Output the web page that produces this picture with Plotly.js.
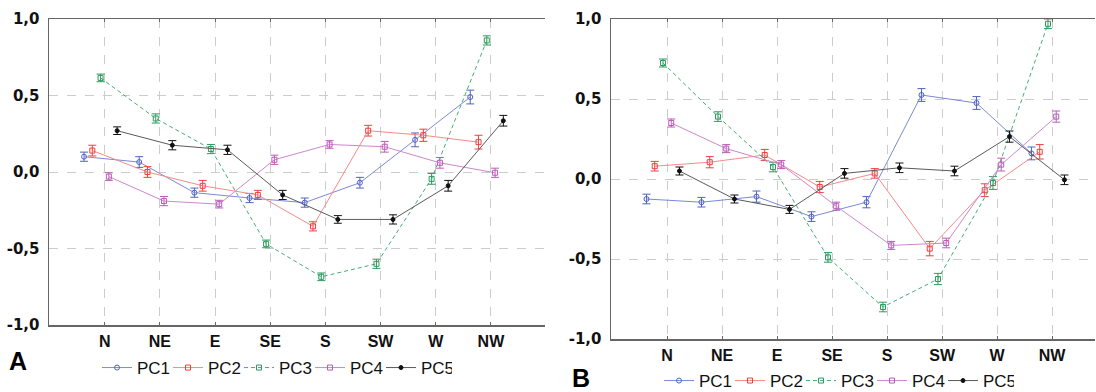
<!DOCTYPE html>
<html><head><meta charset="utf-8">
<script src="https://cdn.plot.ly/plotly-3.0.1.min.js"></script>
<style>html,body{margin:0;padding:0;background:#fff;overflow:hidden}#chart{width:1096px;height:392px}</style>
</head><body><div id="chart"></div>
<script>
const categories = ['N','NE','E','SE','S','SW','W','NW'];
const seriesNames = ['PC1','PC2','PC3','PC4','PC5'];
const yTickValues = [-1, -0.5, 0, 0.5, 1];
const yTickLabels = ['-1,0','-0,5','0,0','0,5','1,0'];
const panelLabels = ['A','B'];

// Panel A values and error half-widths
const a_PC1 = [0.10, 0.065, -0.135, -0.17, -0.20, -0.07, 0.21, 0.49];
const a_PC2 = [0.14, 0.00, -0.09, -0.15, -0.355, 0.27, 0.24, 0.195];
const a_PC3 = [0.615, 0.35, 0.15, -0.47, -0.685, -0.60, -0.045, 0.86];
const a_PC4 = [-0.03, -0.19, -0.21, 0.08, 0.18, 0.165, 0.06, -0.005];
const a_PC5 = [0.27, 0.175, 0.145, -0.15, -0.31, -0.31, -0.09, 0.335];
const a_PC1_err = [0.03, 0.035, 0.03, 0.03, 0.03, 0.035, 0.045, 0.045];
const a_PC2_err = [0.035, 0.035, 0.035, 0.03, 0.03, 0.035, 0.04, 0.045];
const a_PC3_err = [0.025, 0.03, 0.03, 0.025, 0.025, 0.03, 0.035, 0.03];
const a_PC4_err = [0.025, 0.03, 0.025, 0.03, 0.025, 0.035, 0.035, 0.03];
const a_PC5_err = [0.025, 0.03, 0.03, 0.03, 0.025, 0.03, 0.035, 0.035];

// Panel B values and error half-widths
const b_PC1 = [-0.125, -0.145, -0.11, -0.235, -0.145, 0.525, 0.475, 0.16];
const b_PC2 = [0.08, 0.105, 0.15, -0.05, 0.035, -0.435, -0.07, 0.17];
const b_PC3 = [0.725, 0.39, 0.075, -0.49, -0.80, -0.625, -0.025, 0.97];
const b_PC4 = [0.35, 0.19, 0.09, -0.17, -0.415, -0.40, 0.09, 0.39];
const b_PC5 = [0.05, -0.125, -0.19, 0.035, 0.07, 0.05, 0.265, -0.005];
const b_PC1_err = [0.03, 0.03, 0.035, 0.03, 0.035, 0.04, 0.04, 0.04];
const b_PC2_err = [0.03, 0.035, 0.035, 0.035, 0.03, 0.045, 0.04, 0.045];
const b_PC3_err = [0.025, 0.03, 0.03, 0.03, 0.03, 0.035, 0.04, 0.03];
const b_PC4_err = [0.025, 0.025, 0.025, 0.025, 0.025, 0.03, 0.04, 0.035];
const b_PC5_err = [0.025, 0.025, 0.025, 0.03, 0.03, 0.03, 0.035, 0.03];

const panelA = {PC1:[a_PC1,a_PC1_err], PC2:[a_PC2,a_PC2_err], PC3:[a_PC3,a_PC3_err], PC4:[a_PC4,a_PC4_err], PC5:[a_PC5,a_PC5_err]};
const panelB = {PC1:[b_PC1,b_PC1_err], PC2:[b_PC2,b_PC2_err], PC3:[b_PC3,b_PC3_err], PC4:[b_PC4,b_PC4_err], PC5:[b_PC5,b_PC5_err]};

const styles = {
  PC1: {mark:'#4f63bd', line:'#7a8ad4', symbol:'circle-open', dash:'solid', size:5},
  PC2: {mark:'#ee3f3f', line:'#f48a8a', symbol:'square-open', dash:'solid', size:5},
  PC3: {mark:'#2c9a5e', line:'#45ad75', symbol:'square-open', dash:'4px,3px', size:5},
  PC4: {mark:'#b85cb8', line:'#cc88cc', symbol:'square-open', dash:'solid', size:5},
  PC5: {mark:'#111111', line:'#5a5a5a', symbol:'circle', dash:'solid', size:4}
};
const offsets = [-0.375, -0.225, -0.075, 0.075, 0.225];

const traces = [];
function addPanel(panel, xa, ya, legendId) {
  seriesNames.forEach((name, i) => {
    const st = styles[name];
    const [vals, errs] = panel[name];
    traces.push({
      type: 'scatter', mode: 'lines+markers', name: name,
      x: categories.map((c, k) => k + offsets[i]),
      y: vals,
      xaxis: xa, yaxis: ya, legend: legendId,
      line: {color: st.line, width: 1, dash: st.dash},
      marker: {color: st.mark, symbol: st.symbol, size: st.size, line: {color: st.mark, width: 1}},
      error_y: {type: 'data', array: errs, visible: true, color: st.mark, thickness: 1, width: 4},
      hoverinfo: 'skip'
    });
  });
}
addPanel(panelA, 'x', 'y', 'legend');
addPanel(panelB, 'x2', 'y2', 'legend2');

const W = 1096, H = 392;
const px = v => v / W, py = v => 1 - v / H;
const axisLine = '#666666';
const grid = '#cccccc';
const xFont = {family: 'Liberation Sans, Arial, sans-serif', size: 16, color: '#111', weight: 'bold'};
const yFont = {family: 'DejaVu Sans, sans-serif', size: 15, color: '#111', weight: 'bold'};

function xAxis(domain, range, anchor) {
  return {domain: domain, range: range, anchor: anchor,
    tickvals: categories.map((c, k) => k), ticktext: categories,
    tickfont: xFont,
    showgrid: true, gridcolor: grid, griddash: 'dash', gridwidth: 1,
    showline: true, linecolor: axisLine, linewidth: 1.5, mirror: 'ticks',
    ticks: 'inside', ticklen: 3, tickcolor: axisLine,
    zeroline: false, fixedrange: true, automargin: false, ticklabelstandoff: 1};
}
function yAxis(domain, anchor) {
  return {domain: domain, range: [-1, 1], anchor: anchor,
    tickvals: yTickValues, ticktext: yTickLabels, tickfont: yFont,
    showgrid: true, gridcolor: grid, griddash: 'dash', gridwidth: 1,
    showline: true, linecolor: axisLine, linewidth: 1.5,
    ticks: '', zeroline: false, fixedrange: true, automargin: false, ticklabelstandoff: 5};
}

const legendFont = {family: 'Liberation Sans, Arial, sans-serif', size: 17, color: '#111'};
const layout = {
  width: W, height: H,
  margin: {l: 0, r: 0, t: 0, b: 0, autoexpand: false},
  paper_bgcolor: '#ffffff', plot_bgcolor: '#ffffff',
  showlegend: true,
  xaxis: xAxis([px(49), px(545)], [-1.01, 7.98], 'y'),
  yaxis: yAxis([py(325), py(19)], 'x'),
  xaxis2: xAxis([px(611), px(1095)], [-1.02, 7.78], 'y2'),
  yaxis2: yAxis([py(339), py(19)], 'x2'),
  yaxis3: {overlaying: 'y', side: 'right', anchor: 'x', range: [0, 11],
    tickvals: [1,2,3,4,5,6,7,8,9,10], showticklabels: false, ticks: 'inside', ticklen: 4,
    tickcolor: axisLine, showgrid: false, zeroline: false, showline: true,
    linecolor: axisLine, linewidth: 1.5, fixedrange: true, automargin: false},
  legend: {orientation: 'h', x: px(97), xanchor: 'left', y: py(368), yanchor: 'middle',
    font: legendFont, entrywidth: 26, entrywidthmode: 'pixels',
    bgcolor: 'rgba(0,0,0,0)', borderwidth: 0},
  legend2: {orientation: 'h', x: px(659), xanchor: 'left', y: py(381), yanchor: 'middle',
    font: legendFont, entrywidth: 26, entrywidthmode: 'pixels',
    bgcolor: 'rgba(0,0,0,0)', borderwidth: 0},
  annotations: [
    {text: panelLabels[0], x: px(18), y: py(361), xref: 'paper', yref: 'paper', showarrow: false,
     xanchor: 'center', yanchor: 'middle',
     font: {family: 'Liberation Sans, Arial, sans-serif', size: 25, color: '#000', weight: 'bold'}},
    {text: panelLabels[1], x: px(581), y: py(378), xref: 'paper', yref: 'paper', showarrow: false,
     xanchor: 'center', yanchor: 'middle',
     font: {family: 'Liberation Sans, Arial, sans-serif', size: 25, color: '#000', weight: 'bold'}}
  ]
};

Plotly.newPlot('chart', traces, layout, {staticPlot: true, displayModeBar: false});
</script>
</body></html>
